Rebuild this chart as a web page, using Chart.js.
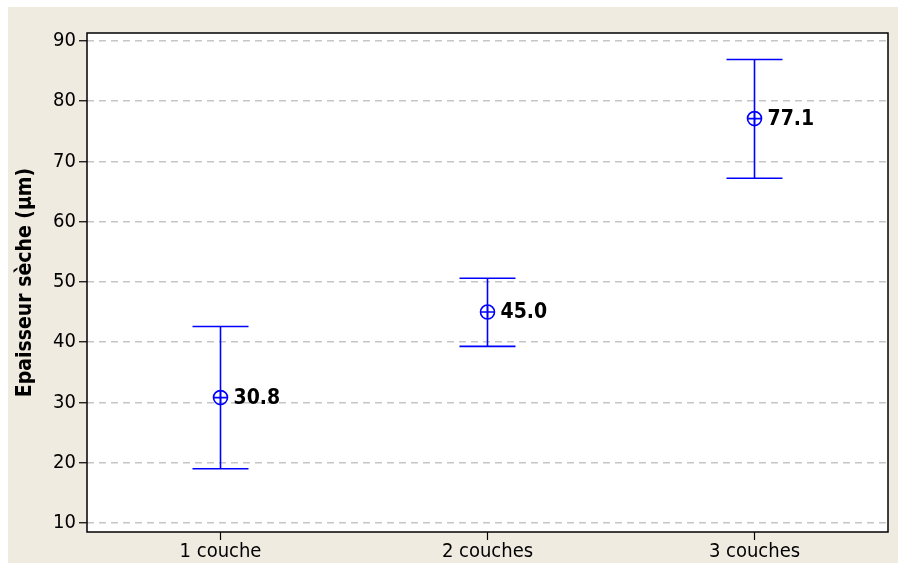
<!DOCTYPE html>
<html>
<head>
<meta charset="utf-8">
<script src="https://cdn.jsdelivr.net/npm/chart.js@4.4.1/dist/chart.umd.min.js"></script>
<style>
  html, body { margin: 0; padding: 0; background: #ffffff; }
  #wrap { width: 898px; height: 563px; position: relative; }
</style>
</head>
<body>
<div id="wrap"><canvas id="c" width="898" height="563"></canvas></div>
<script>
// Dry film thickness by number of coats: mean with interval bounds
const categories = ['1 couche', '2 couches', '3 couches'];
const means = [30.8, 45.0, 77.1];
const upper = [42.6, 50.6, 86.9];
const lower = [19.0, 39.3, 67.2];
const yTicks = [10, 20, 30, 40, 50, 60, 70, 80, 90];
const yTitle = 'Epaisseur sèche (µm)';

const BLUE = '#0000ff';
const FONT = '"DejaVu Sans Condensed", "DejaVu Sans", Verdana, sans-serif';

const backdrop = {
  id: 'backdrop',
  beforeDraw(chart) {
    const { ctx, chartArea: a } = chart;
    ctx.save();
    ctx.fillStyle = '#efebe1';
    ctx.fillRect(8, 7, chart.width - 8, chart.height - 7);
    ctx.fillStyle = '#ffffff';
    ctx.fillRect(a.left, a.top, a.right - a.left, a.bottom - a.top);
    ctx.restore();
  }
};

const intervals = {
  id: 'intervals',
  afterDatasetsDraw(chart) {
    const { ctx } = chart;
    const xs = chart.scales.x, ys = chart.scales.y;
    ctx.save();
    ctx.strokeStyle = BLUE;
    ctx.lineWidth = 1.6;
    const cap = 28;
    categories.forEach((c, i) => {
      const x = xs.getPixelForValue(i);
      const yu = ys.getPixelForValue(upper[i]);
      const yl = ys.getPixelForValue(lower[i]);
      ctx.beginPath();
      ctx.moveTo(x, yu); ctx.lineTo(x, yl);
      ctx.moveTo(x - cap, yu); ctx.lineTo(x + cap, yu);
      ctx.moveTo(x - cap, yl); ctx.lineTo(x + cap, yl);
      ctx.stroke();
    });
    // mean value labels
    ctx.fillStyle = '#000000';
    ctx.font = 'bold 21px ' + FONT;
    ctx.textAlign = 'left';
    ctx.textBaseline = 'middle';
    means.forEach((m, i) => {
      const x = xs.getPixelForValue(i);
      const y = ys.getPixelForValue(m);
      ctx.fillText(m.toFixed(1), x + 13, y + 1);
    });
    ctx.restore();
  },
  afterDraw(chart) {
    const { ctx, chartArea: a } = chart;
    ctx.save();
    ctx.strokeStyle = '#000000';
    ctx.lineWidth = 1.5;
    ctx.strokeRect(a.left, a.top, a.right - a.left, a.bottom - a.top);
    // y axis title
    ctx.translate(26, (a.top + a.bottom) / 2);
    ctx.rotate(-Math.PI / 2);
    ctx.fillStyle = '#000000';
    ctx.font = 'bold 21px ' + FONT;
    ctx.textAlign = 'center';
    ctx.textBaseline = 'middle';
    ctx.fillText(yTitle, 0, 0);
    ctx.restore();
  }
};

new Chart(document.getElementById('c'), {
  type: 'line',
  data: {
    labels: categories,
    datasets: [
      {
        data: means,
        showLine: false,
        pointStyle: 'circle',
        pointRadius: 7,
        pointBorderColor: BLUE,
        pointBackgroundColor: 'rgba(0,0,0,0)',
        pointBorderWidth: 1.6
      },
      {
        data: means,
        showLine: false,
        pointStyle: 'cross',
        pointRadius: 7,
        pointBorderColor: BLUE,
        pointBorderWidth: 1.6
      }
    ]
  },
  options: {
    responsive: false,
    animation: false,
    events: [],
    layout: { padding: { left: 0, top: 33, right: 10, bottom: 0 } },
    plugins: { legend: { display: false }, tooltip: { enabled: false } },
    scales: {
      x: {
        offset: true,
        grid: { offset: false, drawOnChartArea: false, drawTicks: true, tickLength: 8, tickColor: '#000000', tickWidth: 1.2 },
        border: { display: false },
        ticks: { color: '#000000', font: { family: FONT, size: 20 }, padding: 0, maxRotation: 0 },
        afterFit(s) { s.height = 31; }
      },
      y: {
        min: 8.5,
        max: 91.3,
        afterBuildTicks(s) { s.ticks = yTicks.map(v => ({ value: v })); },
        grid: { color: '#c6c6c6', lineWidth: 1.5, drawTicks: true, tickLength: 8, tickColor: '#000000', tickWidth: 1.2, tickBorderDash: [] },
        border: { display: false, dash: [7, 5] },
        ticks: { color: '#000000', font: { family: FONT, size: 20 }, padding: 3 },
        afterFit(s) { s.width = 87; }
      }
    }
  },
  plugins: [backdrop, intervals]
});
</script>
</body>
</html>
